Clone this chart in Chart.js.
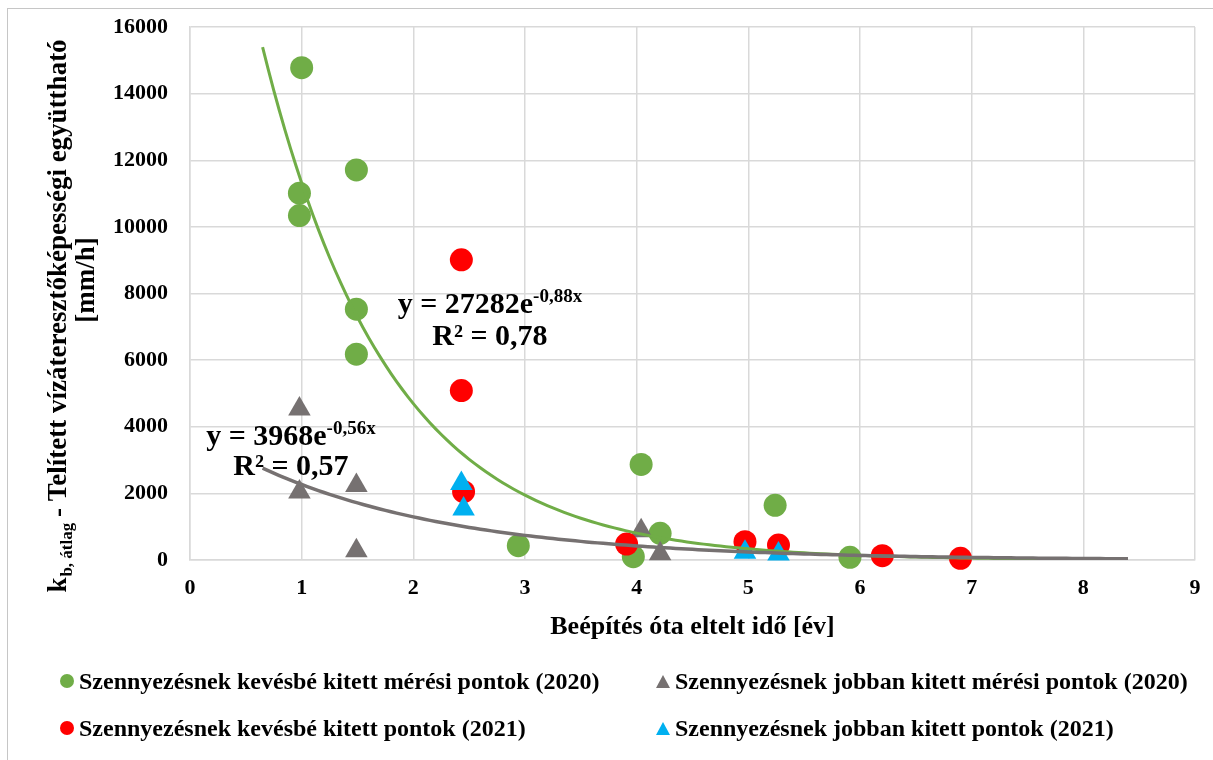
<!DOCTYPE html>
<html lang="hu">
<head>
<meta charset="utf-8">
<title>Telített vízáteresztőképességi együttható</title>
<script src="https://cdn.jsdelivr.net/npm/chart.js@4/dist/chart.umd.min.js"></script>
<style>
  html, body { margin: 0; padding: 0; background: #fff; overflow: hidden; }
  #wrap { position: relative; width: 1213px; height: 760px; }
  #frame { position: absolute; left: 7px; top: 8px; width: 1300px; height: 900px; border: 1.5px solid #c6c6c6; }
  #chart { position: absolute; left: 0; top: 0; }
  .lg { position: absolute; display: flex; align-items: center; height: 28px;
        font: bold 24px "Liberation Serif", "Times New Roman", serif; color: #000; white-space: nowrap; }
  .lg .dot { width: 14px; height: 14px; border-radius: 50%; margin-right: 5px; }
  .lg .tri { width: 0; height: 0; border-left: 7px solid transparent; border-right: 7px solid transparent;
             border-bottom-width: 13px; border-bottom-style: solid; margin-right: 5px; }
</style>
</head>
<body>
<div id="wrap">
  <div id="frame"></div>
  <canvas id="chart" width="1213" height="760"></canvas>
  <div id="legend"></div>
</div>
<script>
// measured points, years since construction vs k_b [mm/h]
const LESS_2020_X = [1.0, 0.98, 0.98, 1.49, 1.49, 1.49, 2.94, 3.97, 4.04, 4.21, 5.24, 5.91];
const LESS_2020_Y = [14780, 11010, 10340, 11710, 7530, 6180, 430, 100, 2870, 800, 1640, 80];
const MORE_2020_X = [0.98, 0.98, 1.49, 1.49, 4.04, 4.21];
const MORE_2020_Y = [4530, 2040, 2240, 280, 880, 190];
const LESS_2021_X = [2.43, 2.43, 2.45, 3.91, 4.97, 5.27, 6.20, 6.90];
const LESS_2021_Y = [9010, 5085, 2050, 480, 550, 450, 130, 50];
const MORE_2021_X = [2.43, 2.45, 4.97, 5.27];
const MORE_2021_Y = [2300, 1530, 230, 180];

const SERIES_LABELS = [
  "Szennyezésnek kevésbé kitett mérési pontok (2020)",
  "Szennyezésnek jobban kitett mérési pontok (2020)",
  "Szennyezésnek kevésbé kitett pontok (2021)",
  "Szennyezésnek jobban kitett pontok (2021)"
];

// exponential trendlines as printed on the chart: y = A * e^(B*x)
const TREND_A = [27282, 3968];
const TREND_B = [-0.88, -0.56];
const TREND_R2 = ["0,78", "0,57"];
const TREND_FROM = 0.65;
const TREND_TO = 8.4;

const X_TICKS = [0, 1, 2, 3, 4, 5, 6, 7, 8, 9];
const Y_TICKS = [0, 2000, 4000, 6000, 8000, 10000, 12000, 14000, 16000];

const X_TITLE = "Beépítés óta eltelt idő [év]";
const Y_TITLE_MAIN = "k";
const Y_TITLE_SUB = "b, átlag";
const Y_TITLE_REST = " - Telített vízáteresztőképességi együttható";
const Y_TITLE_UNIT = "[mm/h]";

const GREEN = "#70ad47";
const GRAY = "#767171";
const RED = "#ff0000";
const BLUE = "#00b0f0";
const FONT = '"Liberation Serif", "Times New Roman", serif';

function points(xs, ys) {
  return xs.map((x, i) => ({ x: x, y: ys[i] }));
}

function trendPoints(k) {
  const pts = [];
  for (let x = TREND_FROM; x <= TREND_TO + 1e-9; x += 0.05) {
    pts.push({ x: x, y: TREND_A[k] * Math.exp(TREND_B[k] * x) });
  }
  return pts;
}

// where the equation labels sit, in data units (centre x, baseline y)
const EQ_POS = [
  { x: 2.686, y: 7415, yR2: 6455 },
  { x: 0.904, y: 3452, yR2: 2552 }
];

const annotations = {
  id: "annotations",
  afterDraw(chart) {
    const ctx = chart.ctx;
    const xs = chart.scales.x, ys = chart.scales.y;
    ctx.save();
    ctx.fillStyle = "#000";
    ctx.textBaseline = "alphabetic";
    ctx.textAlign = "left";

    // trendline equations
    EQ_POS.forEach((p, k) => {
      const main = "y = " + TREND_A[k] + "e";
      const sup = String(TREND_B[k]).replace(".", ",") + "x";
      ctx.font = "bold 30px " + FONT;
      const w1 = ctx.measureText(main).width;
      ctx.font = "bold 19px " + FONT;
      const w2 = ctx.measureText(sup).width;
      const cx = xs.getPixelForValue(p.x);
      const by = ys.getPixelForValue(p.y);
      const left = cx - (w1 + w2) / 2;
      ctx.font = "bold 30px " + FONT;
      ctx.fillText(main, left, by);
      ctx.font = "bold 19px " + FONT;
      ctx.fillText(sup, left + w1, by - 11);
      ctx.font = "bold 30px " + FONT;
      ctx.textAlign = "center";
      ctx.fillText("R² = " + TREND_R2[k], cx, ys.getPixelForValue(p.yR2));
      ctx.textAlign = "left";
    });

    // x axis title
    ctx.font = "bold 26px " + FONT;
    ctx.textAlign = "center";
    ctx.fillText(X_TITLE, (chart.chartArea.left + chart.chartArea.right) / 2, 634);

    // y axis title, rotated, with subscript
    ctx.textAlign = "left";
    ctx.font = "bold 27px " + FONT;
    const wk = ctx.measureText(Y_TITLE_MAIN).width;
    const wr = ctx.measureText(Y_TITLE_REST).width;
    ctx.font = "bold 17px " + FONT;
    const ws = ctx.measureText(Y_TITLE_SUB).width;
    const total = wk + ws + wr;
    ctx.translate(66, 316);
    ctx.rotate(-Math.PI / 2);
    let pos = -total / 2;
    ctx.font = "bold 27px " + FONT;
    ctx.fillText(Y_TITLE_MAIN, pos, 0);
    pos += wk;
    ctx.font = "bold 17px " + FONT;
    ctx.fillText(Y_TITLE_SUB, pos + 1, 6);
    pos += ws;
    ctx.font = "bold 27px " + FONT;
    ctx.fillText(Y_TITLE_REST, pos, 0);
    ctx.textAlign = "center";
    ctx.fillText(Y_TITLE_UNIT, 36, 28);
    ctx.restore();
  }
};

const scatterSets = [
  { xs: LESS_2020_X, ys: LESS_2020_Y, color: GREEN, style: "circle", r: 11.5, order: 5 },
  { xs: MORE_2020_X, ys: MORE_2020_Y, color: GRAY, style: "triangle", r: 13, order: 4 },
  { xs: LESS_2021_X, ys: LESS_2021_Y, color: RED, style: "circle", r: 11.5, order: 3 },
  { xs: MORE_2021_X, ys: MORE_2021_Y, color: BLUE, style: "triangle", r: 13, order: 2 }
];

const datasets = scatterSets.map((s, i) => ({
  label: SERIES_LABELS[i],
  data: points(s.xs, s.ys),
  pointStyle: s.style,
  pointRadius: s.r,
  pointHoverRadius: s.r,
  pointBackgroundColor: s.color,
  pointBorderColor: s.color,
  pointBorderWidth: 0,
  backgroundColor: s.color,
  borderColor: s.color,
  showLine: false,
  clip: false,
  order: s.order
}));

datasets.push({
  label: "trend 2020 kevésbé",
  data: trendPoints(0),
  showLine: true,
  borderColor: GREEN,
  borderWidth: 3,
  pointRadius: 0,
  order: 1
});
datasets.push({
  label: "trend 2020 jobban",
  data: trendPoints(1),
  showLine: true,
  borderColor: GRAY,
  borderWidth: 3.5,
  pointRadius: 0,
  order: 0
});

const tickFont = { family: FONT, size: 22, weight: "bold" };

new Chart(document.getElementById("chart"), {
  type: "scatter",
  data: { datasets: datasets },
  options: {
    responsive: false,
    devicePixelRatio: 1,
    animation: false,
    layout: { autoPadding: false, padding: { top: 27, right: 18, left: 0, bottom: 0 } },
    plugins: { legend: { display: false }, tooltip: { enabled: false } },
    scales: {
      x: {
        type: "linear",
        min: X_TICKS[0],
        max: X_TICKS[X_TICKS.length - 1],
        afterBuildTicks: (sc) => { sc.ticks = X_TICKS.map(v => ({ value: v })); },
        afterFit: (sc) => { sc.height = 200; sc.paddingLeft = 0; sc.paddingRight = 0; },
        grid: { color: "#d9d9d9", lineWidth: 1.5, drawTicks: false },
        border: { color: "#d9d9d9", width: 1.5 },
        ticks: { padding: 15, color: "#000", font: tickFont, callback: (v) => String(v) }
      },
      y: {
        type: "linear",
        min: Y_TICKS[0],
        max: Y_TICKS[Y_TICKS.length - 1],
        afterBuildTicks: (sc) => { sc.ticks = Y_TICKS.map(v => ({ value: v })); },
        afterFit: (sc) => { sc.width = 190; sc.paddingTop = 0; sc.paddingBottom = 0; },
        grid: { color: "#d9d9d9", lineWidth: 1.5, drawTicks: false },
        border: { color: "#d9d9d9", width: 1.5 },
        ticks: { padding: 22, color: "#000", font: tickFont, callback: (v) => String(v) }
      }
    }
  },
  plugins: [annotations]
});

// legend in two columns below the plot
const LEGEND_SPOTS = [
  { left: 60, top: 667 },
  { left: 656, top: 667 },
  { left: 60, top: 714 },
  { left: 656, top: 714 }
];
const legend = document.getElementById("legend");
scatterSets.forEach((s, i) => {
  const item = document.createElement("div");
  item.className = "lg";
  item.style.left = LEGEND_SPOTS[i].left + "px";
  item.style.top = LEGEND_SPOTS[i].top + "px";
  const mk = document.createElement("span");
  if (s.style === "circle") {
    mk.className = "dot";
    mk.style.background = s.color;
  } else {
    mk.className = "tri";
    mk.style.borderBottomColor = s.color;
  }
  const tx = document.createElement("span");
  tx.textContent = SERIES_LABELS[i];
  item.appendChild(mk);
  item.appendChild(tx);
  legend.appendChild(item);
});
</script>
</body>
</html>
